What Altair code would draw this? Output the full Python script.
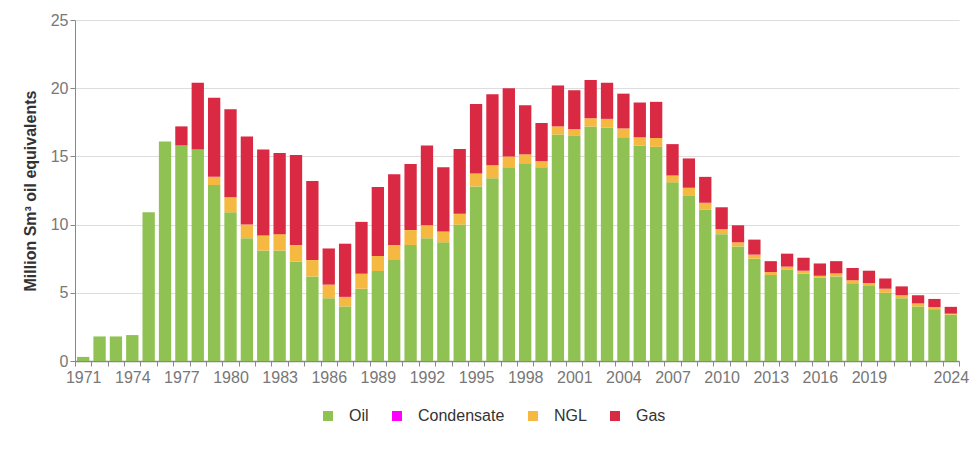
import altair as alt
import pandas as pd

years = list(range(1971, 2025))

oil = [0.3, 1.8, 1.8, 1.9, 10.9, 16.1, 15.8, 15.5, 12.9, 10.9,
       9.0, 8.1, 8.1, 7.3, 6.2, 4.6, 4.0, 5.3, 6.6, 7.4,
       8.5, 9.0, 8.7, 10.0, 12.8, 13.4, 14.2, 14.5, 14.2, 16.6,
       16.5, 17.2, 17.1, 16.4, 15.8, 15.7, 13.1, 12.1, 11.1, 9.3,
       8.4, 7.5, 6.3, 6.7, 6.4, 6.1, 6.2, 5.7, 5.5, 5.0,
       4.6, 4.0, 3.8, 3.4]

condensate = [0.0] * 54

ngl = [0, 0, 0, 0, 0, 0, 0, 0, 0.6, 1.1,
       1.0, 1.1, 1.2, 1.2, 1.2, 1.0, 0.7, 1.1, 1.1, 1.1,
       1.1, 0.95, 0.8, 0.8, 0.95, 0.95, 0.8, 0.65, 0.45, 0.6,
       0.5, 0.6, 0.65, 0.65, 0.6, 0.65, 0.5, 0.6, 0.5, 0.37,
       0.3, 0.3, 0.22, 0.22, 0.22, 0.15, 0.22, 0.22, 0.22, 0.3,
       0.22, 0.22, 0.15, 0.07]

gas = [0, 0, 0, 0, 0, 0, 1.4, 4.9, 5.8, 6.45,
       6.45, 6.3, 5.95, 6.6, 5.8, 2.65, 3.9, 3.8, 5.05, 5.2,
       4.85, 5.85, 4.7, 4.75, 5.1, 5.2, 5.0, 3.6, 2.8, 3.0,
       2.85, 2.8, 2.65, 2.55, 2.55, 2.65, 2.3, 2.15, 1.9, 1.6,
       1.25, 1.1, 0.8, 0.95, 0.95, 0.9, 0.9, 0.9, 0.9, 0.75,
       0.65, 0.6, 0.6, 0.5]

series_names = ["Oil", "Condensate", "NGL", "Gas"]
series_colors = ["#8fc153", "#ff00ff", "#f5b942", "#da2943"]
label_years = [1971, 1974, 1977, 1980, 1983, 1986, 1989, 1992, 1995, 1998,
               2001, 2004, 2007, 2010, 2013, 2016, 2019, 2024]
y_ticks = [0, 5, 10, 15, 20, 25]

wide = pd.DataFrame({"year": years, "Oil": oil, "Condensate": condensate,
                     "NGL": ngl, "Gas": gas})
df = wide.melt(id_vars="year", var_name="series", value_name="value")
df["order"] = df["series"].map({n: i for i, n in enumerate(series_names)})

# ticks between years (boundaries) plus label positions
boundary_ticks = [y - 0.5 for y in years] + [years[-1] + 0.5]
x_values = sorted(boundary_ticks + label_years)
label_list = ",".join(str(v) for v in label_years)
label_expr = f"indexof([{label_list}], datum.value) >= 0 ? toString(datum.value) : ''"

chart = (
    alt.Chart(df)
    .transform_stack(
        stack="value",
        groupby=["year"],
        as_=["y0", "y1"],
        sort=[alt.SortField("order", order="ascending")],
    )
    .transform_calculate(x0="datum.year - 0.376", x1="datum.year + 0.376")
    .mark_bar()
    .encode(
        x=alt.X(
            "x0:Q",
            scale=alt.Scale(domain=[years[0] - 0.5, years[-1] + 0.5], nice=False, zero=False),
            axis=alt.Axis(
                values=x_values,
                labelExpr=label_expr,
                tickOpacity={"condition": {"test": "datum.value % 1 === 0", "value": 0}, "value": 1},
                grid=False,
                title=None,
                tickSize=5,
                tickColor="#888888",
                domainColor="#888888",
                domainWidth=1.5,
                labelFontSize=16,
                labelColor="#777777",
                labelPadding=3,
                labelOverlap=False,
                labelFlush=False,
            ),
        ),
        x2="x1:Q",
        y=alt.Y(
            "y0:Q",
            scale=alt.Scale(domain=[0, 25], nice=False),
            axis=alt.Axis(
                values=y_ticks,
                title="Million Sm³ oil equivalents",
                titleFontSize=16,
                titleFontWeight="bold",
                titleColor="#333333",
                titlePadding=12,
                tickSize=5,
                tickColor="#888888",
                domainColor="#888888",
                gridColor="#dddddd",
                labelFontSize=16,
                labelColor="#777777",
                labelPadding=2,
            ),
        ),
        y2="y1:Q",
        color=alt.Color(
            "series:N",
            scale=alt.Scale(domain=series_names, range=series_colors),
            sort=series_names,
            legend=alt.Legend(
                title=None,
                orient="none",
                legendX=245,
                legendY=388,
                direction="horizontal",
                symbolType="square",
                symbolSize=100,
                symbolStrokeWidth=0,
                labelFontSize=16,
                labelColor="#333333",
                labelOffset=13,
                columnPadding=20,
            ),
        ),
        order=alt.Order("order:Q"),
    )
    .properties(
        width=884,
        height=341,
        autosize=alt.AutoSizeParams(type="none"),
        padding={"left": 67, "top": 12, "right": 13, "bottom": 80},
    )
    .configure(font="Liberation Sans")
    .configure_view(strokeWidth=0)
)

chart.save("out.html", embed_options={"renderer": "svg", "actions": False})
